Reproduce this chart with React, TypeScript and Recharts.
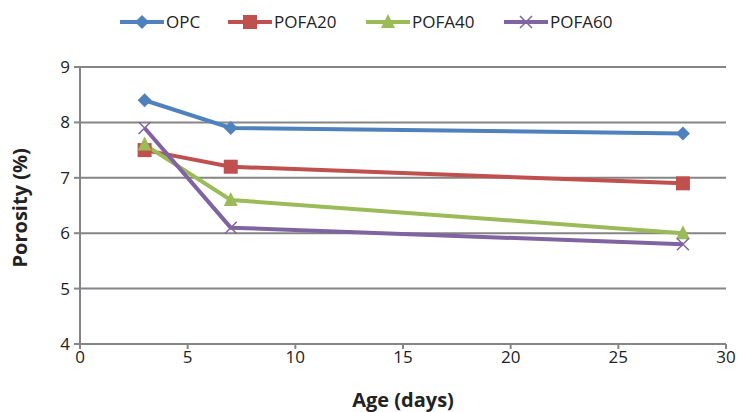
import { LineChart, Line, XAxis, YAxis, CartesianGrid } from 'recharts';

const ages = [3, 7, 28];
const opc = [8.4, 7.9, 7.8];
const pofa20 = [7.5, 7.2, 6.9];
const pofa40 = [7.6, 6.6, 6.0];
const pofa60 = [7.9, 6.1, 5.8];
const xTicks = [0, 5, 10, 15, 20, 25, 30];
const yTicks = [4, 5, 6, 7, 8, 9];

const data = ages.map((age, i) => ({
  age,
  OPC: opc[i],
  POFA20: pofa20[i],
  POFA40: pofa40[i],
  POFA60: pofa60[i],
}));

const font = '"Open Sans", Lato, sans-serif';
const axisGrey = '#858585';

type Shape = 'diamond' | 'square' | 'triangle' | 'cross';

const series: { key: string; color: string; shape: Shape }[] = [
  { key: 'OPC', color: '#4F81BD', shape: 'diamond' },
  { key: 'POFA20', color: '#C0504D', shape: 'square' },
  { key: 'POFA40', color: '#9BBB59', shape: 'triangle' },
  { key: 'POFA60', color: '#8064A2', shape: 'cross' },
];

function Marker({ cx, cy, shape, color }: { cx: number; cy: number; shape: Shape; color: string }) {
  if (shape === 'diamond') {
    return <path d={`M${cx},${cy - 7} L${cx + 7},${cy} L${cx},${cy + 7} L${cx - 7},${cy} Z`} fill={color} />;
  }
  if (shape === 'square') {
    return <rect x={cx - 7} y={cy - 7} width={14} height={14} fill={color} />;
  }
  if (shape === 'triangle') {
    return <path d={`M${cx},${cy - 8} L${cx + 7},${cy + 6} L${cx - 7},${cy + 6} Z`} fill={color} />;
  }
  return (
    <path
      d={`M${cx - 6},${cy - 6} L${cx + 6},${cy + 6} M${cx + 6},${cy - 6} L${cx - 6},${cy + 6}`}
      stroke={color}
      strokeWidth={1.5}
    />
  );
}

// legend drawn above the plot, one swatch per series
function LegendRow() {
  const items = [
    { ...series[0], x: 120 },
    { ...series[1], x: 228 },
    { ...series[2], x: 366 },
    { ...series[3], x: 504 },
  ];
  return (
    <svg width={739} height={45} style={{ position: 'absolute', left: 0, top: 0 }}>
      {items.map((s) => (
        <g key={s.key}>
          <line x1={s.x} y1={22} x2={s.x + 44} y2={22} stroke={s.color} strokeWidth={4} />
          <Marker cx={s.x + 22} cy={22} shape={s.shape} color={s.color} />
          <text x={s.x + 46} y={28} fontSize={17} fontFamily={font} fill="#222">
            {s.key}
          </text>
        </g>
      ))}
    </svg>
  );
}

export default function App() {
  return (
    <div style={{ position: 'absolute', left: 0, top: 0, width: 739, height: 412, background: '#fff' }}>
      <LineChart width={739} height={412} data={data} margin={{ top: 67, right: 13, bottom: 38, left: 30 }}>
        <CartesianGrid horizontal vertical={false} stroke={axisGrey} strokeWidth={2} />
        <XAxis
          type="number"
          dataKey="age"
          domain={[0, 30]}
          ticks={xTicks}
          height={30}
          stroke={axisGrey}
          strokeWidth={2}
          tickSize={5}
          tickMargin={2}
          tick={{ fill: '#222', fontSize: 17, fontFamily: font }}
          label={{ value: 'Age (days)', position: 'insideBottom', offset: -33, fill: '#222', fontSize: 20, fontWeight: 'bold', fontFamily: font }}
        />
        <YAxis
          domain={[4, 9]}
          ticks={yTicks}
          width={50}
          stroke={axisGrey}
          strokeWidth={2}
          tickSize={6}
          tickMargin={4}
          tick={{ fill: '#222', fontSize: 17, fontFamily: font }}
          label={{ value: 'Porosity (%)', angle: -90, position: 'insideLeft', offset: -10, dy: 62, fill: '#222', fontSize: 20, fontWeight: 'bold', fontFamily: font }}
        />
        {series.map((s) => (
          <Line
            key={s.key}
            dataKey={s.key}
            stroke={s.color}
            strokeWidth={4}
            isAnimationActive={false}
            dot={(p: any) => <Marker key={`${s.key}-${p.index}`} cx={p.cx} cy={p.cy} shape={s.shape} color={s.color} />}
          />
        ))}
      </LineChart>
      <LegendRow />
    </div>
  );
}
